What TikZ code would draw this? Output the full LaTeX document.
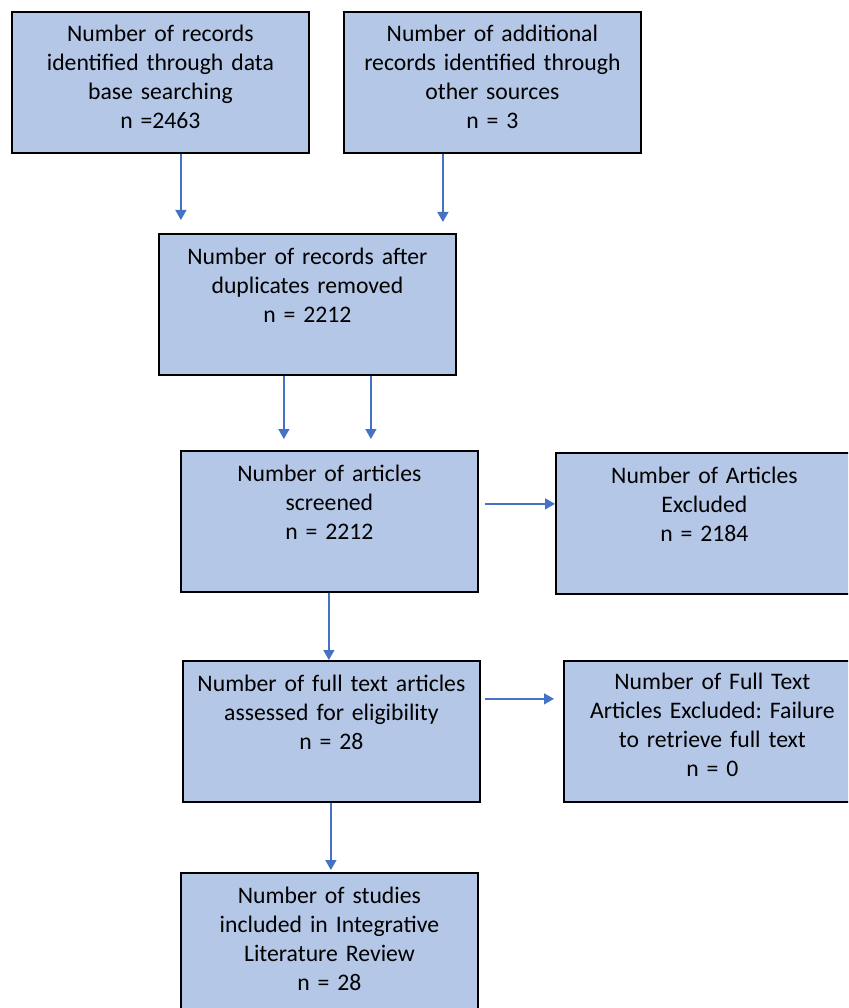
\documentclass[tikz,border=0pt]{standalone}
\usepackage{fontspec}
\setmainfont{Carlito}
\frenchspacing
\usetikzlibrary{arrows.meta}
\definecolor{boxblue}{HTML}{B4C7E7}
\definecolor{arrowblue}{HTML}{4472C4}
\tikzset{
    box/.style = {draw=black, line width=1.8pt, fill=boxblue, anchor=north west,
                  minimum width=297pt, minimum height=141pt, inner sep=0pt},
    txt/.style = {anchor=base, align=center, text width=292pt, inner sep=0pt,
                  font=\fontsize{23.7pt}{29pt}\selectfont},
    arr/.style = {draw=arrowblue, line width=1.4pt, -{Triangle[width=11pt,length=10pt]}}
}
\begin{document}
\begin{tikzpicture}[x=1pt, y=-1pt]
        \useasboundingbox (0,0) rectangle (848,1008);
        \clip (0,0) rectangle (848,1008);
        \node[box] (rec)    at (11,11)   {};
        \node[box] (other)  at (343,11)  {};
        \node[box] (dup)    at (158,233) {};
        \node[box] (screen) at (180,450) {};
        \node[box] (excl)   at (555,452) {};
        \node[box] (full)   at (182,660) {};
        \node[box] (ftex)   at (563,660) {};
        \node[box] (incl)   at (180,872) {};
        \node[txt] (rec-t)    at ([yshift=-31pt]rec.north)
              {Number of records\\identified through data\\base searching\\n =2463};
        \node[txt] (other-t)  at ([yshift=-31pt]other.north)
              {Number of additional\\records identified through\\other sources\\n = 3};
        \node[txt] (dup-t)    at ([yshift=-31pt]dup.north)
              {Number of records after\\duplicates removed\\n = 2212};
        \node[txt] (screen-t) at ([yshift=-31pt]screen.north)
              {Number of articles\\screened\\n = 2212};
        \node[txt] (excl-t)   at ([yshift=-31pt]excl.north)
              {Number of Articles\\Excluded\\n = 2184};
        \node[txt] (full-t)   at ([yshift=-31pt]full.north)
              {Number of full text articles\\assessed for eligibility\\n = 28};
        \node[txt] (ftex-t)   at ([yshift=-29pt]ftex.north)
              {Number of Full Text\\Articles Excluded: Failure\\to retrieve full text\\n = 0};
        \node[txt] (incl-t)   at ([yshift=-31pt]incl.north)
              {Number of studies\\included in Integrative\\Literature Review\\n = 28};
        \draw[arr, shorten >=13pt] ([xshift=20.5pt]rec.south)
              -- ([xshift=20.5pt]rec.south |- dup.north);
        \draw[arr, shorten >=11pt] ([xshift=-49.5pt]other.south)
              -- ([xshift=-49.5pt]other.south |- dup.north);
        \draw[arr, shorten >=11pt] ([xshift=-23.5pt]dup.south)
              -- ([xshift=-23.5pt]dup.south |- screen.north);
        \draw[arr, shorten >=11pt] ([xshift=63.5pt]dup.south)
              -- ([xshift=63.5pt]dup.south |- screen.north);
        \draw[arr, shorten <=6pt] ([yshift=17.5pt]screen.east)
              -- ([yshift=17.5pt]screen.east -| excl.west);
        \draw[arr] ([xshift=-0.5pt]screen.south) -- ([xshift=-0.5pt]screen.south |- full.north);
        \draw[arr, shorten <=4pt, shorten >=9pt] ([yshift=32.5pt]full.east)
              -- ([yshift=32.5pt]full.east -| ftex.west);
        \draw[arr, shorten >=2pt] ([xshift=-0.5pt]full.south) -- ([xshift=-0.5pt]full.south |- incl.north);
\end{tikzpicture}
\end{document}
